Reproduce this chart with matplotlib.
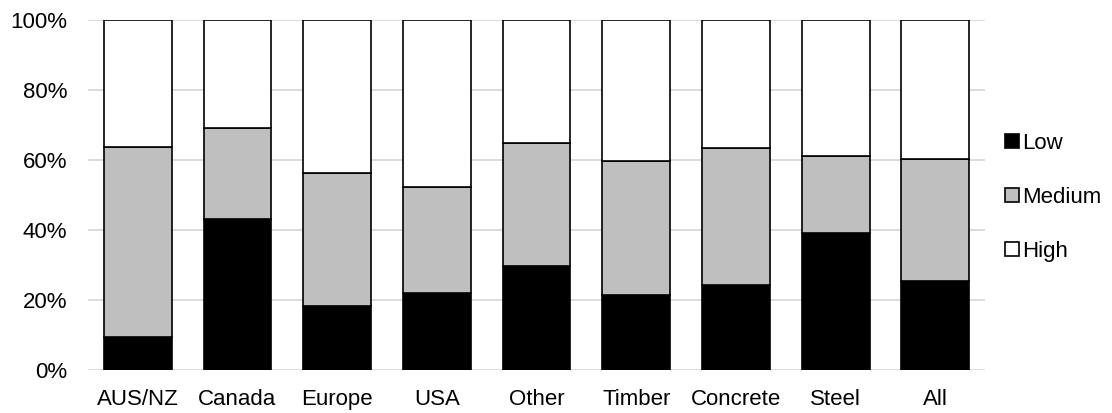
import numpy as np
import matplotlib.pyplot as plt
from matplotlib.ticker import PercentFormatter

plt.rcParams['font.family'] = ['Liberation Sans', 'DejaVu Sans']

# --- data (share of responses, %) ---
categories = ["AUS/NZ", "Canada", "Europe", "USA", "Other",
              "Timber", "Concrete", "Steel", "All"]
low = [9.4, 43.2, 18.4, 22.0, 29.8, 21.5, 24.3, 39.2, 25.4]
medium = [54.3, 26.0, 38.0, 30.3, 34.9, 38.1, 39.2, 21.9, 34.8]
high = [100 - l - m for l, m in zip(low, medium)]

series = [("Low", low, "black"),
          ("Medium", medium, "#bfbfbf"),
          ("High", high, "white")]

fig = plt.figure(figsize=(11.12, 4.13), dpi=100)
ax = fig.add_axes([0.079, 0.104, 0.807, 0.848])

x = np.arange(len(categories))
bottom = np.zeros(len(categories))
handles = []
for name, vals, color in series:
    bars = ax.bar(x, vals, width=0.68, bottom=bottom, color=color,
                  edgecolor="black", linewidth=1.2, label=name, zorder=3)
    handles.append(bars)
    bottom += np.array(vals)

ax.set_xlim(-0.5, len(categories) - 0.5)
ax.set_ylim(0, 100)
ax.set_yticks(np.arange(0, 101, 20))
ax.yaxis.set_major_formatter(PercentFormatter(decimals=0))
ax.set_xticks(x)
ax.set_xticklabels(categories)
ax.tick_params(axis="both", length=0, labelsize=16, colors="black")
ax.tick_params(axis="x", pad=14)
ax.tick_params(axis="y", pad=15)
ax.grid(axis="y", color="#d9d9d9", linewidth=1.3, zorder=0)
for s in ax.spines.values():
    s.set_visible(False)

fig.legend(handles=handles, labels=[s[0] for s in series],
           loc="center left", bbox_to_anchor=(0.896, 0.522),
           frameon=False, fontsize=16, handlelength=0.6, handleheight=0.6,
           handletextpad=0.15, labelspacing=1.5, borderaxespad=0)

fig.savefig("out.png", dpi=100)
